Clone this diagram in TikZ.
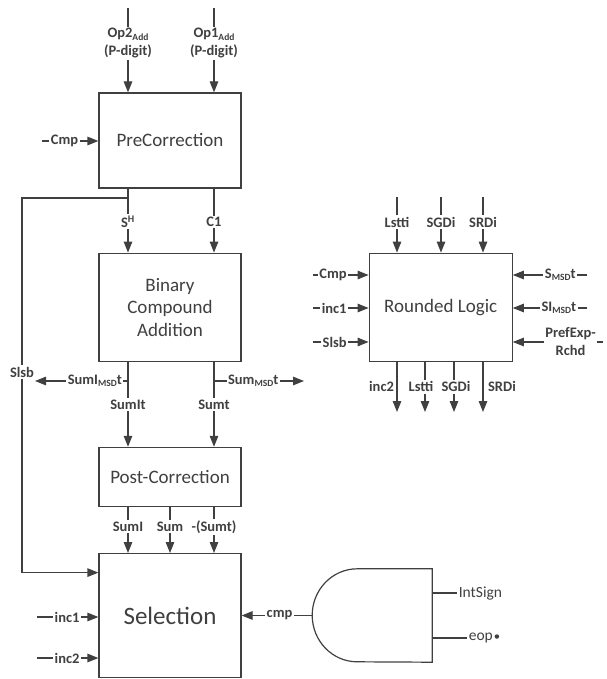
\documentclass[tikz,border=0pt]{standalone}
\usepackage{fontspec}
\setmainfont{Carlito}
\usetikzlibrary{arrows.meta, positioning, calc}
\definecolor{wiregray}{HTML}{404040}
\newcommand{\lowtxt}[1]{\raisebox{-2.5pt}{\fontsize{9.5}{10}\selectfont #1}}

\begin{document}
\begin{tikzpicture}[
    x=1pt, y=1pt,
    node distance=10pt,
    block/.style={rectangle, draw=wiregray, line width=1.2pt, fill=white, minimum width=142pt, align=center, text=wiregray, font=\fontsize{19}{22.5}\selectfont},
    sig/.style={font=\fontsize{14.5}{18}\selectfont\bfseries, text=wiregray, fill=white, inner sep=1.5pt, align=center},
    plain/.style={font=\fontsize{15.5}{18}\selectfont, text=wiregray, inner sep=1pt, anchor=west},
    arr/.style={-{Triangle[length=11pt, width=8.5pt]}, line width=1.2pt, color=wiregray},
    wire/.style={line width=1.2pt, color=wiregray},
]
\useasboundingbox (0,0) rectangle (606,-679);

% ─── Main datapath ───
\node[block, minimum height=95pt] (pre) at (170,-140.5) {PreCorrection};
\node[block, minimum height=108pt, below=64pt of pre] (bca) {Binary\\Compound\\Addition};
\node[block, minimum height=59pt, below=85pt of bca] (post) {Post-Correction};
\node[block, minimum height=124pt, below=46pt of post, font=\fontsize{25}{28}\selectfont] (sel) {Selection};

% ─── Rounding block ───
\node[block, minimum width=143pt, minimum height=108pt, right=127pt of bca] (rl) {Rounded Logic};

% ─── Gate ───
\node[minimum width=120pt, minimum height=93pt, inner sep=0pt] (gate) at (372,-615.5) {};
\draw[wire] (gate.north east) -- ++(-75,0) arc[start angle=90, end angle=270, x radius=45, y radius=46.5] -- (gate.south east) -- cycle;

% ─── Free ends ───
\coordinate (op2src) at (128,-8);
\coordinate (op1src) at (214,-8);
\coordinate (cmpsrc) at (42,-141);
\coordinate (tap) at (128,-198);
\coordinate (fbcorner) at (22,-198);
\coordinate (sumitap) at (128,-381);
\coordinate (sumtap) at (214,-381);
\coordinate (sumiend) at (35,-381);
\coordinate (sumend) at (304,-381);
\coordinate (inc1src) at (37,-617);
\coordinate (inc2src) at (37,-658);

\coordinate (lsttiin) at (397,-197);
\coordinate (sgdiin) at (441,-197);
\coordinate (srdiin) at (483,-197);
\coordinate (rlcmp) at (313,-275);
\coordinate (rlinc1) at (313,-308);
\coordinate (rlslsb) at (313,-342);
\coordinate (smsdin) at (587,-275);
\coordinate (simsdin) at (587,-308);
\coordinate (prefin) at (603,-342);
\coordinate (inc2out) at (397,-412);
\coordinate (lsttiout) at (425,-412);
\coordinate (sgdiout) at (454,-412);
\coordinate (srdiout) at (483,-412);

% ─── PreCorrection ───
\draw[arr] (op2src) -- (op2src |- pre.north) node[sig, pos=0.42] {Op2\lowtxt{Add}\\(P-digit)};
\draw[arr] (op1src) -- (op1src |- pre.north) node[sig, pos=0.42] {Op1\lowtxt{Add}\\(P-digit)};
\draw[arr] (cmpsrc) -- (cmpsrc -| pre.west) node[sig, pos=0.4] {Cmp};

% ─── Binary Compound Addition ───
\draw[arr] (op2src |- pre.south) -- (op2src |- bca.north) node[sig, pos=0.52] {S\textsuperscript{H}};
\draw[arr] (op1src |- pre.south) -- (op1src |- bca.north) node[sig, pos=0.52] {C1};
\draw[arr] (tap) -- (fbcorner) |- ([yshift=43pt]sel.west);
\node[sig] (slsblbl) at (22,-372) {Slsb};

% ─── Post-Correction ───
\draw[arr] (op2src |- bca.south) -- (op2src |- post.north) node[sig, pos=0.5] {SumIt};
\draw[arr] (op1src |- bca.south) -- (op1src |- post.north) node[sig, pos=0.5] {Sumt};
\draw[arr] (sumitap) -- (sumiend) node[sig, pos=0, anchor=east, xshift=-4pt] {SumI\lowtxt{MSD}t};
\draw[arr] (sumtap) -- (sumend) node[sig, pos=0, anchor=west, xshift=12pt] {Sum\lowtxt{MSD}t};

% ─── Selection ───
\draw[arr] (op2src |- post.south) -- (op2src |- sel.north) node[sig, pos=0.43] {SumI};
\draw[arr] (post.south) -- (sel.north) node[sig, pos=0.43] {Sum};
\draw[arr] (op1src |- post.south) -- (op1src |- sel.north) node[sig, pos=0.43] {-(Sumt)};
\draw[arr] (inc1src) -- (inc1src -| sel.west) node[sig, pos=0.49] {inc1};
\draw[arr] (inc2src) -- (inc2src -| sel.west) node[sig, pos=0.49] {inc2};
\draw[arr] (gate.west) -- (gate.west -| sel.east) node[sig, pos=0.46] {cmp};

\draw[wire] ([yshift=22.5pt]gate.east) -- ++(25,0) node[plain] (intsign) {IntSign};
\draw[wire] ([yshift=-22.5pt]gate.east) -- ++(35,0) node[plain] (eoplbl) {eop};
\node[circle, fill=wiregray, inner sep=0pt, minimum size=4.5pt, right=0pt of eoplbl, yshift=1.5pt] (eopdot) {};

% ─── Rounded Logic ───
\draw[arr] (lsttiin) -- (lsttiin |- rl.north) node[sig, pos=0.45] {Lstti};
\draw[arr] (sgdiin) -- (sgdiin |- rl.north) node[sig, pos=0.45] {SGDi};
\draw[arr] (srdiin) -- (srdiin |- rl.north) node[sig, pos=0.45] {SRDi};
\draw[arr] (rlcmp) -- (rlcmp -| rl.west) node[sig, pos=0.36] {Cmp};
\draw[arr] (rlinc1) -- (rlinc1 -| rl.west) node[sig, pos=0.38] {inc1};
\draw[arr] (rlslsb) -- (rlslsb -| rl.west) node[sig, pos=0.39] {Slsb};
\draw[arr] (smsdin) -- (smsdin -| rl.east) node[sig, pos=0.36] {S\lowtxt{MSD}t};
\draw[arr] (simsdin) -- (simsdin -| rl.east) node[sig, pos=0.38] {SI\lowtxt{MSD}t};
\draw[arr] (prefin) -- (prefin -| rl.east) node[sig, pos=0.36] {PrefExp-\\Rchd};
\draw[arr] (inc2out |- rl.south) -- (inc2out) node[sig, pos=0.5, anchor=east, xshift=-1pt] {inc2};
\draw[arr] (lsttiout |- rl.south) -- (lsttiout) node[sig, pos=0.5, xshift=-4pt] {Lstti};
\draw[arr] (sgdiout |- rl.south) -- (sgdiout) node[sig, pos=0.5, xshift=2pt] {SGDi};
\draw[arr] (srdiout |- rl.south) -- (srdiout) node[sig, pos=0.5, anchor=west, xshift=3pt] {SRDi};

\end{tikzpicture}
\end{document}
